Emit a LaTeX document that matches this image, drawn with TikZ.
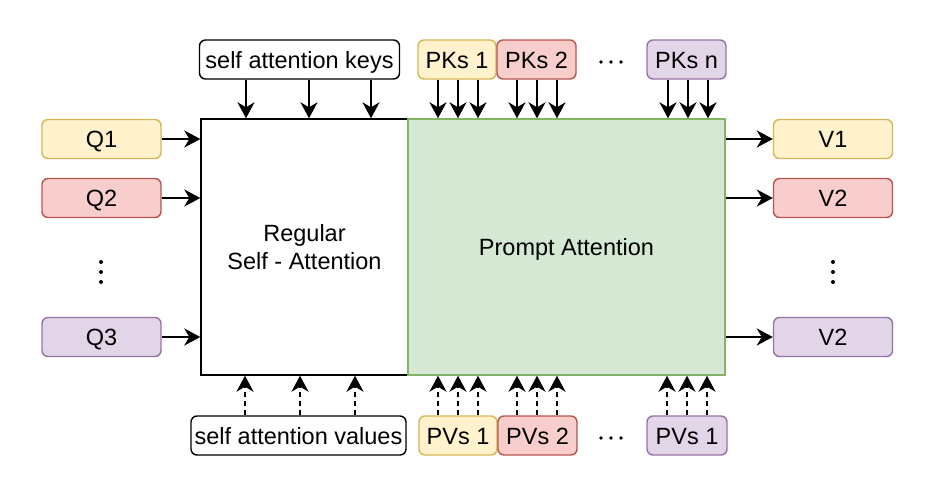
\documentclass[tikz,border=0pt]{standalone}
\usepackage{fontspec}
\setmainfont{Liberation Sans}
\usetikzlibrary{arrows.meta}
\definecolor{ylwF}{HTML}{FFF2CC}\definecolor{ylwD}{HTML}{D6B656}
\definecolor{redF}{HTML}{F8CECC}\definecolor{redD}{HTML}{B85450}
\definecolor{purF}{HTML}{E1D5E7}\definecolor{purD}{HTML}{9673A6}
\definecolor{grnF}{HTML}{D5E8D4}\definecolor{grnD}{HTML}{82B366}
\tikzset{
  lbl/.style={font=\fontsize{23.5}{28}\selectfont, text=black},
  rbox/.style={lbl, draw, rounded corners=6pt, line width=1.4pt, inner sep=0pt, minimum height=39pt, text height=17pt, text depth=0pt},
  ybox/.style={rbox, fill=ylwF, draw=ylwD},
  rdbox/.style={rbox, fill=redF, draw=redD},
  pbox/.style={rbox, fill=purF, draw=purD},
  arr/.style={line width=1.9pt, -{Stealth[length=16pt,width=17pt,inset=5pt]}},
  darr/.style={arr, dash pattern=on 5pt off 4pt},
  dotc/.style={fill=black, draw=none}
}
\begin{document}
\begin{tikzpicture}[x=1pt,y=-1pt]
\useasboundingbox (0,0) rectangle (929,482);
% main boxes
\node[lbl, draw=black, line width=1.4pt, fill=white, minimum width=207pt, minimum height=256pt, inner sep=0pt, align=center] (reg) at (304.5,247) {Regular\\Self - Attention};
\node[lbl, draw=grnD, line width=1.4pt, fill=grnF, minimum width=317pt, minimum height=256pt, inner sep=0pt, text height=17pt, text depth=0pt] (prm) at (566.5,247) {Prompt Attention};
% Q boxes
\node[ybox, minimum width=119pt] (q1) at (101.5,139) {Q1};
\node[rdbox, minimum width=119pt] (q2) at (101.5,198) {Q2};
\node[pbox, minimum width=119pt] (q3) at (101.5,337) {Q3};
% V boxes
\node[ybox, minimum width=119pt] (v1) at (833,139) {V1};
\node[rdbox, minimum width=119pt] (v2) at (833,198) {V2};
\node[pbox, minimum width=119pt] (v3) at (833,337) {V2};
% top boxes
\node[rbox, fill=white, draw=black, minimum width=200pt] (keys) at (299.5,59.5) {self attention keys};
\node[ybox, minimum width=78pt] (pk1) at (457,59.5) {PKs 1};
\node[rdbox, minimum width=79pt] (pk2) at (536.5,59.5) {PKs 2};
\node[pbox, minimum width=79pt] (pkn) at (686.5,59.5) {PKs n};
% bottom boxes
\node[rbox, fill=white, draw=black, minimum width=215pt] (vals) at (298.5,435.5) {self attention values};
\node[ybox, minimum width=78pt] (pv1) at (458,435.5) {PVs 1};
\node[rdbox, minimum width=79pt] (pv2) at (537.5,435.5) {PVs 2};
\node[pbox, minimum width=80pt] (pvn) at (687,435.5) {PVs 1};
% side arrows
\foreach \q in {q1,q2,q3} \draw[arr] (\q.east) -- (\q.east -| reg.west);
\foreach \v in {v1,v2,v3} \draw[arr] (\v.west -| prm.east) -- (\v.west);
% top arrows
\foreach \x in {246,309,371} \draw[arr] (keys.south -| \x,0) -- (reg.north -| \x,0);
\foreach \x in {438,458,478} \draw[arr] (pk1.south -| \x,0) -- (prm.north -| \x,0);
\foreach \x in {517,537,557} \draw[arr] (pk2.south -| \x,0) -- (prm.north -| \x,0);
\foreach \x in {668,688,708} \draw[arr] (pkn.south -| \x,0) -- (prm.north -| \x,0);
% bottom arrows
\foreach \x in {245,300,355} \draw[darr] (vals.north -| \x,0) -- (reg.south -| \x,0);
\foreach \x in {438,458,478} \draw[darr] (pv1.north -| \x,0) -- (prm.south -| \x,0);
\foreach \x in {517,537,557} \draw[darr] (pv2.north -| \x,0) -- (prm.south -| \x,0);
\foreach \x in {667,687,707} \draw[darr] (pvn.north -| \x,0) -- (prm.south -| \x,0);
% dots
\foreach \y in {262,272,282} {\fill[dotc] (101,\y) circle (2pt); \fill[dotc] (833,\y) circle (2pt);}
\foreach \x in {601,611,621} {\fill[dotc] (\x,62) circle (1.8pt); \fill[dotc] (\x,438) circle (1.8pt);}
\end{tikzpicture}
\end{document}
